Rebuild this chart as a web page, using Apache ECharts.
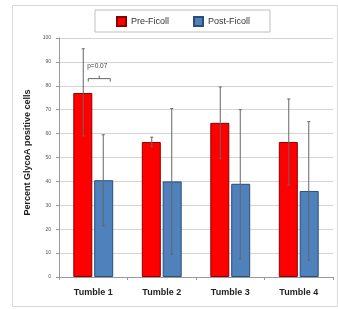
<!DOCTYPE html>
<html>
<head>
<meta charset="utf-8">
<script src="https://cdn.jsdelivr.net/npm/echarts@6/dist/echarts.min.js"></script>
<style>
  html, body { margin: 0; padding: 0; background: #fff; }
  #frame { position: absolute; left: 12px; top: 5px; width: 326px; height: 302px; border: 1px solid #d9d9d9; box-sizing: border-box; }
  #chart { width: 338px; height: 309px; position: absolute; left: 0; top: 0; }
</style>
</head>
<body>
<div id="frame"></div>
<div id="chart"></div>
<script>
var categories = ['Tumble 1', 'Tumble 2', 'Tumble 3', 'Tumble 4'];
var preFicoll = [77, 56.5, 64.5, 56.5];
var postFicoll = [40.5, 40, 39, 36];
// error bar ends [low, high]
var preErr = [[59, 95.5], [54.5, 58.5], [49.5, 79.5], [38.5, 74.5]];
var postErr = [[21.5, 59.5], [9.5, 70.5], [7.5, 70], [7, 65]];
var yTicks = [0, 10, 20, 30, 40, 50, 60, 70, 80, 90, 100];

var mychart = echarts.init(document.getElementById('chart'));

function errData(err) {
  return err.map(function (e, i) { return [i, e[0], e[1]]; });
}

function errRender(offset) {
  return function (params, api) {
    var lo = api.coord([api.value(0), api.value(1)]);
    var hi = api.coord([api.value(0), api.value(2)]);
    var x = lo[0] + offset;
    var style = { stroke: '#666', lineWidth: 1 };
    return {
      type: 'group',
      children: [
        { type: 'line', shape: { x1: x, y1: lo[1], x2: x, y2: hi[1] }, style: style },
        { type: 'line', shape: { x1: x - 1.5, y1: hi[1], x2: x + 1.5, y2: hi[1] }, style: style },
        { type: 'line', shape: { x1: x - 1.5, y1: lo[1], x2: x + 1.5, y2: lo[1] }, style: style }
      ]
    };
  };
}

var option = {
  animation: false,
  grid: { left: 59, right: 5, top: 38, bottom: 32 },
  legend: {
    data: ['Pre-Ficoll', 'Post-Ficoll'],
    icon: 'rect',
    top: 10,
    left: 95,
    width: 175,
    padding: [6, 20, 5, 21],
    itemGap: 24,
    itemWidth: 9,
    itemHeight: 9,
    borderColor: '#bfbfbf',
    borderWidth: 1,
    textStyle: { fontSize: 9, color: '#333', fontFamily: 'Liberation Sans' }
  },
  xAxis: {
    type: 'category',
    data: categories,
    axisLine: { lineStyle: { color: '#999' } },
    axisTick: { show: true, length: 3, lineStyle: { color: '#999' } },
    axisLabel: { fontSize: 9, fontWeight: 'bold', color: '#222', margin: 11, fontFamily: 'Liberation Sans' }
  },
  yAxis: {
    type: 'value',
    min: 0,
    max: 100,
    interval: 10,
    name: 'Percent GlycoA positive cells',
    nameLocation: 'middle',
    nameGap: 24,
    nameTextStyle: { fontSize: 9, fontWeight: 'bold', color: '#222', fontFamily: 'Liberation Sans Narrow, Liberation Sans', padding: [0, 0, 0, 10] },
    axisLine: { show: true, lineStyle: { color: '#999' } },
    axisTick: { show: true, length: 3, lineStyle: { color: '#999' } },
    axisLabel: { fontSize: 5, color: '#555', margin: 8, formatter: function (v) { return yTicks.indexOf(v) >= 0 ? String(v) : ''; } },
    splitLine: { lineStyle: { color: '#d4d4d4' } }
  },
  series: [
    {
      name: 'Pre-Ficoll',
      type: 'bar',
      data: preFicoll,
      barWidth: 19,
      barGap: '10%',
      itemStyle: { color: '#ff0000', borderColor: '#8b0000', borderWidth: 1 }
    },
    {
      name: 'Post-Ficoll',
      type: 'bar',
      data: postFicoll,
      barWidth: 19,
      itemStyle: { color: '#4f81bd', borderColor: '#2c4d75', borderWidth: 1 }
    },
    {
      type: 'custom',
      renderItem: errRender(-10),
      data: errData(preErr),
      z: 10,
      silent: true
    },
    {
      type: 'custom',
      renderItem: errRender(10),
      data: errData(postErr),
      z: 10,
      silent: true
    },
    {
      // p-value bracket between the Tumble 1 bars
      type: 'custom',
      data: [[0, 83, 'p=0.07']],
      z: 11,
      silent: true,
      renderItem: function (params, api) {
        var p = api.coord([api.value(0), api.value(1)]);
        var x1 = p[0] - 5, x2 = p[0] + 17, y = p[1];
        var mid = (x1 + x2) / 2;
        var st = { stroke: '#666', lineWidth: 1 };
        return {
          type: 'group',
          children: [
            { type: 'line', shape: { x1: x1, y1: y + 3, x2: x1, y2: y }, style: st },
            { type: 'line', shape: { x1: x1, y1: y, x2: x2, y2: y }, style: st },
            { type: 'line', shape: { x1: x2, y1: y, x2: x2, y2: y + 3 }, style: st },
            { type: 'line', shape: { x1: mid, y1: y, x2: mid, y2: y - 3 }, style: st },
            { type: 'text', style: { text: api.value(2), x: x1 - 1, y: y - 9, fontSize: 6.5, fill: '#444', textVerticalAlign: 'bottom', fontFamily: 'Liberation Sans' } }
          ]
        };
      }
    }
  ]
};

mychart.setOption(option);
</script>
</body>
</html>
